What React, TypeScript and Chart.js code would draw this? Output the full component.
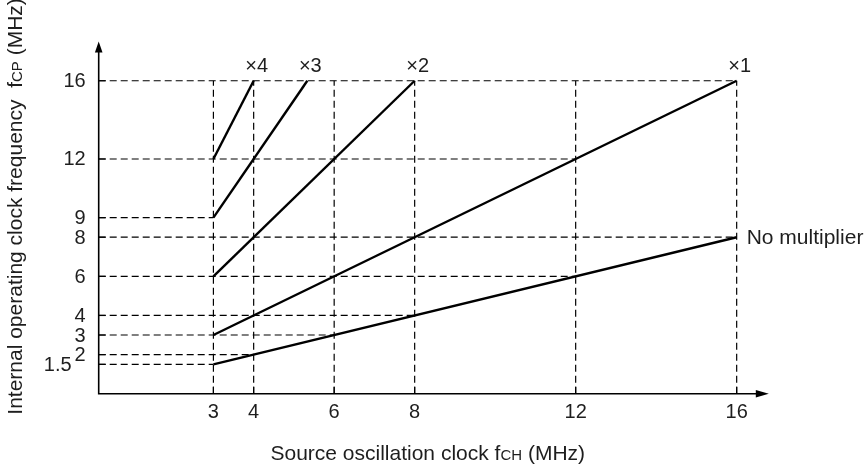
import React, { useEffect, useRef } from "react";
import { Chart, registerables } from "chart.js";

Chart.register(...registerables);

// ---- data ----
const xTicks = [3, 4, 6, 8, 12, 16];
const xTickLabels = ["3", "4", "6", "8", "12", "16"];
const yTicks = [1.5, 2, 3, 4, 6, 8, 9, 12, 16];
const yTickLabels = ["1.5", "2", "3", "4", "6", "8", "9", "12", "16"];
// x value where each horizontal guide (same order as yTicks) stops
const hGuideEnds = [3, 4, 6, 8, 12, 16, 3, 12, 16];
const vGuideTop = 16;

const seriesNames = ["No multiplier", "×1", "×2", "×3", "×4"];
const srcStart = [3, 3, 3, 3, 3];
const srcEnd = [16, 16, 8, 5.333, 4];
const cpStart = [1.5, 3, 6, 9, 12];
const cpEnd = [8, 16, 16, 16, 16];

const xTitleMain = "Source oscillation clock f";
const xTitleSub = "CH";
const xTitleTail = " (MHz)";
const yTitleMain = "Internal operating clock frequency  f";
const yTitleSub = "CP";
const yTitleTail = " (MHz)";

const X_MIN = 0.15;
const X_MAX = 16.5;
const Y_MIN = 0;
const Y_MAX = 17.5;

const FONT = "'Liberation Sans', Arial, Helvetica, sans-serif";
const TEXT = "#1e1e1e";

export default function App() {
  const ref = useRef<HTMLCanvasElement | null>(null);

  useEffect(() => {
    if (!ref.current) return;

    const guideSets: any[] = [];
    xTicks.forEach((xv) => {
      guideSets.push({
        data: [
          { x: xv, y: Y_MIN },
          { x: xv, y: vGuideTop },
        ],
        showLine: true,
        borderColor: "#000",
        borderWidth: 1.2,
        borderDash: [7, 4],
        pointRadius: 0,
        isGuide: true,
      });
    });
    yTicks.forEach((yv, i) => {
      guideSets.push({
        data: [
          { x: X_MIN, y: yv },
          { x: hGuideEnds[i], y: yv },
        ],
        showLine: true,
        borderColor: "#000",
        borderWidth: 1.2,
        borderDash: [7, 4],
        pointRadius: 0,
        isGuide: true,
      });
    });
    const lineSets = seriesNames.map((name, i) => ({
      label: name,
      data: [
        { x: srcStart[i], y: cpStart[i] },
        { x: srcEnd[i], y: cpEnd[i] },
      ],
      showLine: true,
      borderColor: "#000",
      borderWidth: 2.4,
      pointRadius: 0,
      isSeries: true,
    }));

    const overlay = {
      id: "overlay",
      afterDatasetsDraw(chart: any) {
        const { ctx, chartArea } = chart;
        const xs = chart.scales.x;
        const ys = chart.scales.y;
        const L = chartArea.left;
        const R = chartArea.right;
        const T = chartArea.top;
        const B = chartArea.bottom;
        ctx.save();
        // axes
        ctx.strokeStyle = "#000";
        ctx.fillStyle = "#000";
        ctx.lineWidth = 1.6;
        ctx.setLineDash([]);
        ctx.beginPath();
        ctx.moveTo(L, T);
        ctx.lineTo(L, B);
        ctx.lineTo(R, B);
        ctx.stroke();
        // arrows
        ctx.beginPath();
        ctx.moveTo(R + 12, B);
        ctx.lineTo(R - 1, B - 3.8);
        ctx.lineTo(R - 1, B + 3.8);
        ctx.closePath();
        ctx.fill();
        ctx.beginPath();
        ctx.moveTo(L, T - 10);
        ctx.lineTo(L - 3.8, T + 1);
        ctx.lineTo(L + 3.8, T + 1);
        ctx.closePath();
        ctx.fill();
        // tick marks (inward)
        ctx.lineWidth = 1.2;
        xTicks.forEach((v) => {
          const px = xs.getPixelForValue(v);
          ctx.beginPath();
          ctx.moveTo(px, B);
          ctx.lineTo(px, B - 7);
          ctx.stroke();
        });
        yTicks.forEach((v) => {
          const py = ys.getPixelForValue(v);
          ctx.beginPath();
          ctx.moveTo(L, py);
          ctx.lineTo(L + 7, py);
          ctx.stroke();
        });
        // tick labels
        ctx.fillStyle = TEXT;
        ctx.font = `20px ${FONT}`;
        ctx.textAlign = "center";
        ctx.textBaseline = "alphabetic";
        xTicks.forEach((v, i) => {
          ctx.fillText(xTickLabels[i], xs.getPixelForValue(v), B + 24);
        });
        ctx.textAlign = "right";
        ctx.textBaseline = "middle";
        const labelRight = L - 13;
        yTicks.forEach((v, i) => {
          const py = ys.getPixelForValue(v);
          let right = labelRight;
          if (i + 1 < yTicks.length) {
            const pn = ys.getPixelForValue(yTicks[i + 1]);
            if (Math.abs(pn - py) < 13) {
              right -= ctx.measureText(yTickLabels[i + 1]).width + 3;
            }
          }
          ctx.fillText(yTickLabels[i], right, py + 1);
        });
        // x title
        const big = `21px ${FONT}`;
        const small = `15px ${FONT}`;
        ctx.textBaseline = "alphabetic";
        ctx.textAlign = "left";
        ctx.font = big;
        const w1 = ctx.measureText(xTitleMain).width;
        const w3 = ctx.measureText(xTitleTail).width;
        ctx.font = small;
        const w2 = ctx.measureText(xTitleSub).width;
        const sx = (L + R) / 2 - (w1 + w2 + w3) / 2;
        const by = B + 66;
        ctx.font = big;
        ctx.fillText(xTitleMain, sx, by);
        ctx.font = small;
        ctx.fillText(xTitleSub, sx + w1, by);
        ctx.font = big;
        ctx.fillText(xTitleTail, sx + w1 + w2, by);
        // y title (rotated)
        ctx.save();
        ctx.translate(22, B + 21);
        ctx.rotate(-Math.PI / 2);
        ctx.font = big;
        const v1 = ctx.measureText(yTitleMain).width;
        ctx.font = small;
        const v2 = ctx.measureText(yTitleSub).width;
        ctx.font = big;
        ctx.fillText(yTitleMain, 0, 0);
        ctx.font = small;
        ctx.fillText(yTitleSub, v1, 0);
        ctx.font = big;
        ctx.fillText(yTitleTail, v1 + v2, 0);
        ctx.restore();
        // series labels
        chart.data.datasets.forEach((ds: any, di: number) => {
          if (!ds.isSeries) return;
          const meta = chart.getDatasetMeta(di);
          const end = meta.data[meta.data.length - 1];
          if (ds.label === seriesNames[0]) {
            ctx.font = `21px ${FONT}`;
            ctx.textAlign = "left";
            ctx.textBaseline = "middle";
            ctx.fillText(ds.label, end.x + 10, end.y + 1);
          } else {
            ctx.font = `20px ${FONT}`;
            ctx.textAlign = "center";
            ctx.textBaseline = "alphabetic";
            ctx.fillText(ds.label, end.x + 3, end.y - 9);
          }
        });
        ctx.restore();
      },
    };

    const chart = new Chart(ref.current, {
      type: "scatter",
      data: { datasets: [...guideSets, ...lineSets] as any },
      options: {
        animation: false,
        responsive: true,
        maintainAspectRatio: false,
        layout: {
          padding: { left: 98.7, right: 108.2, top: 51.4, bottom: 71.3 },
        },
        plugins: {
          legend: { display: false },
          tooltip: { enabled: false },
        },
        scales: {
          x: { type: "linear", min: X_MIN, max: X_MAX, display: false },
          y: { type: "linear", min: Y_MIN, max: Y_MAX, display: false },
        },
        elements: { line: { tension: 0 } },
      },
      plugins: [overlay],
    });
    return () => chart.destroy();
  }, []);

  return (
    <div
      style={{
        position: "fixed",
        left: 0,
        top: 0,
        width: 865,
        height: 465,
        background: "#fff",
      }}
    >
      <canvas ref={ref} />
    </div>
  );
}
